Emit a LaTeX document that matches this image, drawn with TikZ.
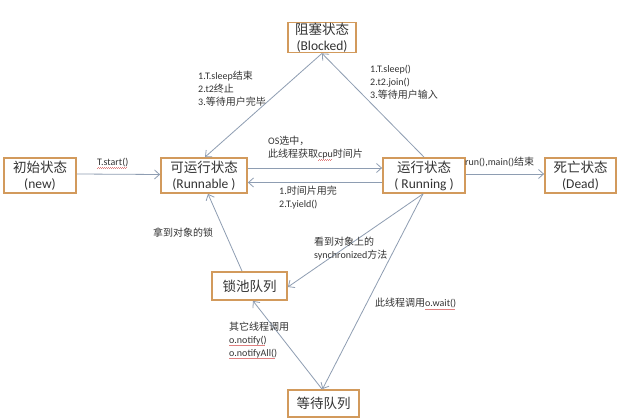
\documentclass[tikz,border=0pt]{standalone}
\usepackage{fontspec}
\setmainfont{Carlito}
\newfontfamily\cjk{Noto Sans CJK SC}
\usetikzlibrary{arrows.meta}
\definecolor{boxor}{HTML}{D29A5C}
\definecolor{arr}{HTML}{8E9DB2}
\definecolor{txt}{HTML}{333333}
\definecolor{wavy}{HTML}{E08080}
\newcommand\zh[1]{{\cjk #1}}
\newsavebox\rwbox
\newcommand\rw[1]{\sbox\rwbox{#1}\rlap{\raisebox{-2.6pt}{\color{wavy}\leaders\hbox to 2pt{\rule{1pt}{0.4pt}\rule[0.6pt]{1pt}{0.4pt}}\hskip\wd\rwbox}}#1}
\begin{document}
\begin{tikzpicture}[x=1pt,y=-1pt,
  state/.style={draw=boxor,line width=1.8pt,fill=white,text=txt,align=center,inner sep=0pt,
    font=\fontsize{13.5}{16}\selectfont},
  lab/.style={text=txt,inner sep=0pt,align=left,font=\fontsize{10}{13}\selectfont},
  conn/.style={draw=arr,line width=0.8pt,-{Straight Barb[length=5pt,width=9pt]}}]
\useasboundingbox[fill=white] (0,0) rectangle (640,419);
% states
\node[state,minimum width=72pt,minimum height=35pt] (new) at (40,175.5) {\zh{初始状态}\\(new)};
\node[state,minimum width=68pt,minimum height=30pt] (blocked) at (322,37.5) {\zh{阻塞状态}\\(Blocked)};
\node[state,minimum width=86pt,minimum height=35pt] (runnable) at (204,175.5) {\zh{可运行状态}\\(Runnable )};
\node[state,minimum width=82pt,minimum height=35pt] (running) at (424,175.5) {\zh{运行状态}\\( Running )};
\node[state,minimum width=71pt,minimum height=35pt] (dead) at (580.5,175.5) {\zh{死亡状态}\\(Dead)};
\node[state,minimum width=75pt,minimum height=28pt] (lock) at (249.5,286) {\zh{锁池队列}};
\node[state,minimum width=71pt,minimum height=27pt] (waitq) at (323.5,403.5) {\zh{等待队列}};
% connectors
\draw[conn] ([yshift=1.5pt]new.east) -- ([yshift=1pt]runnable.west);
\draw[conn] ([yshift=7.5pt]runnable.east) -- ([yshift=7.5pt]running.west);
\draw[conn] ([yshift=-7pt]running.west) -- ([yshift=-7pt]runnable.east);
\draw[conn] (running.north) -- (blocked.south);
\draw[conn] (blocked.south) -- ([xshift=1pt]runnable.north);
\draw[conn] ([yshift=1.5pt]running.east) -- ([yshift=1.5pt]dead.west);
\draw[conn] ([xshift=-1pt]running.south) -- ([yshift=-1pt]lock.east);
\draw[conn] ([xshift=-7.5pt]lock.north) -- ([xshift=4pt]runnable.south);
\draw[conn] ([xshift=-1pt]running.south) -- ([xshift=-1pt]waitq.north);
\draw[conn] ([xshift=-1.5pt]waitq.north) -- ([xshift=3.5pt]lock.south);
% labels
\node[lab,anchor=west] (l1) at (97,163) {\rw{T.start()}};
\node[lab,anchor=north west] (l2) at (268,136) {OS\zh{选中，}\\\zh{此线程获取}\rw{cpu}\zh{时间片}};
\node[lab,anchor=north west] (l3) at (279,186) {1.\zh{时间片用完}\\2.T.yield()};
\node[lab,anchor=west] (l4) at (465,162) {run(),main()\zh{结束}};
\node[lab,anchor=north west] (l5) at (198,70.5) {1.T.sleep\zh{结束}\\2.t2\zh{终止}\\3.\zh{等待用户完毕}};
\node[lab,anchor=north west] (l6) at (370,65) {1.T.sleep()\\2.t2.join()\\3.\zh{等待用户输入}};
\node[lab,anchor=west] (l7) at (153,233) {\zh{拿到对象的锁}};
\node[lab,anchor=north west] (l8) at (314,237) {\zh{看到对象上的}\\synchronized\zh{方法}};
\node[lab,anchor=west] (l9) at (375,304) {\zh{此线程调用}\rw{o.wait()}};
\node[lab,anchor=north west] (l10) at (229,321.5) {\zh{其它线程调用}\\\rw{o.notify()}\\\rw{o.notifyAll()}};
\end{tikzpicture}
\end{document}
